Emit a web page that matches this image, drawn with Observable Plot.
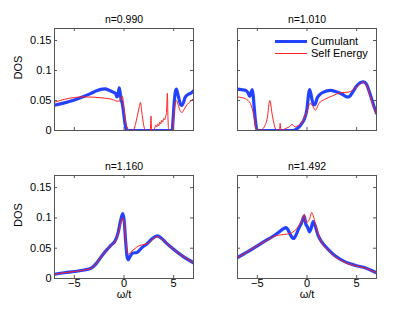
<!DOCTYPE html>
<html><head><meta charset="utf-8">
<script src="https://cdn.jsdelivr.net/npm/d3@7"></script>
<script src="https://cdn.jsdelivr.net/npm/@observablehq/plot@0.6"></script>
<style>
body{margin:0;background:#fff;}
#chart{position:relative;width:415px;height:313px;font-family:"Liberation Sans",Arial,sans-serif;}
#chart svg{position:absolute;}
.leg{position:absolute;font-size:11px;line-height:12px;color:#000;white-space:nowrap;}
.sw{position:absolute;}
</style></head><body><div id="chart"></div>
<script>
// ---------- data ----------
const titles = ["n=0.990", "n=1.010", "n=1.160", "n=1.492"];
const xTicks = [-5, 0, 5];
const yTicks = [0, 0.05, 0.1, 0.15];
const seriesNames = ["Cumulant", "Self Energy"];

// [omega/t, DOS]
const cumulant1 = [[-7,0.042],[-6,0.046],[-5,0.051],[-4,0.057],[-3.3,0.062],[-2.7,0.0665],[-2.2,0.069],[-1.9,0.0695],[-1.5,0.067],[-1.1,0.064],[-0.85,0.062],[-0.72,0.056],[-0.6,0.06],[-0.48,0.071],[-0.38,0.062],[-0.28,0.05],[-0.18,0.046],[-0.08,0.035],[0.05,0.018],[0.18,0.005],[0.35,0],[4.85,0],[4.95,0.02],[5.05,0.045],[5.18,0.065],[5.28,0.069],[5.4,0.062],[5.55,0.052],[5.7,0.043],[5.85,0.042],[6.0,0.047],[6.15,0.055],[6.45,0.06],[6.7,0.062],[7,0.066]];
const selfEnergy1 = [[-7,0.047],[-6,0.052],[-5,0.055],[-4,0.056],[-3,0.0555],[-2,0.054],[-1.2,0.052],[-0.7,0.049],[-0.45,0.049],[-0.3,0.055],[-0.2,0.058],[-0.1,0.052],[0,0.035],[0.15,0.015],[0.35,0.004],[0.55,0],[0.95,0.001],[1.15,0.01],[1.35,0.025],[1.55,0.04],[1.66,0.047],[1.8,0.03],[1.95,0.012],[2.1,0.002],[2.3,0],[2.65,0],[2.72,0.024],[2.78,0],[2.95,0],[3.1,0.004],[3.2,0.009],[3.3,0.006],[3.4,0.011],[3.5,0.008],[3.6,0.014],[3.7,0.011],[3.8,0.017],[3.9,0.014],[4.0,0.02],[4.1,0.018],[4.2,0.024],[4.28,0.03],[4.37,0.062],[4.43,0.02],[4.5,0.002],[4.6,0],[4.9,0],[5.0,0.02],[5.12,0.042],[5.28,0.05],[5.45,0.043],[5.65,0.033],[5.85,0.03],[6.05,0.035],[6.35,0.043],[6.65,0.048],[7,0.053]];

const cumulant2 = [[-7,0.069],[-6.6,0.068],[-6.2,0.067],[-5.95,0.063],[-5.76,0.057],[-5.62,0.064],[-5.52,0.068],[-5.42,0.058],[-5.3,0.035],[-5.15,0.01],[-5.0,0],[-1.4,0],[-1.0,0.003],[-0.6,0.01],[-0.3,0.018],[0,0.036],[0.12,0.055],[0.25,0.068],[0.38,0.062],[0.5,0.052],[0.65,0.043],[0.8,0.043],[1.0,0.053],[1.3,0.06],[1.67,0.064],[2.34,0.067],[3.0,0.064],[3.6,0.06],[4.0,0.056],[4.2,0.056],[4.6,0.064],[5.0,0.074],[5.4,0.08],[5.7,0.081],[6.0,0.077],[6.25,0.066],[6.5,0.053],[6.75,0.04],[7,0.029]];
const selfEnergy2 = [[-7,0.056],[-6.6,0.055],[-6.2,0.053],[-5.7,0.045],[-5.37,0.026],[-5.1,0.002],[-4.86,0],[-4.5,0.002],[-4.3,0.006],[-4.0,0.021],[-3.75,0.05],[-3.5,0.026],[-3.2,0.004],[-2.95,0],[-2.78,0],[-2.7,0.012],[-2.63,0],[-2.4,0.001],[-2.2,0.003],[-1.8,0.006],[-1.5,0.01],[-1.2,0.006],[-0.9,0.008],[-0.6,0.011],[-0.35,0.018],[0,0.031],[0.3,0.045],[0.5,0.043],[0.85,0.034],[1.2,0.045],[1.8,0.052],[2.6,0.058],[3.4,0.063],[4.2,0.064],[4.8,0.07],[5.4,0.078],[5.7,0.081],[6.0,0.076],[6.25,0.064],[6.5,0.05],[6.75,0.037],[7,0.027]];

const cumulant3 = [[-7,0.007],[-6,0.0095],[-5,0.0115],[-4,0.014],[-3.3,0.017],[-2.8,0.0245],[-2.2,0.038],[-1.7,0.048],[-1.3,0.055],[-0.9,0.062],[-0.6,0.075],[-0.35,0.095],[-0.12,0.107],[0.02,0.095],[0.15,0.065],[0.3,0.037],[0.42,0.031],[0.6,0.036],[0.9,0.042],[1.3,0.043],[1.8,0.051],[2.3,0.057],[2.8,0.065],[3.35,0.0705],[3.8,0.066],[4.3,0.058],[4.9,0.0495],[5.9,0.037],[7,0.026]];
const selfEnergy3 = [[-7,0.007],[-6,0.0095],[-5,0.0115],[-4,0.014],[-3.3,0.017],[-2.8,0.0245],[-2.2,0.038],[-1.7,0.048],[-1.3,0.055],[-0.9,0.061],[-0.6,0.073],[-0.35,0.09],[-0.12,0.1],[0.02,0.092],[0.15,0.068],[0.3,0.045],[0.45,0.04],[0.7,0.044],[1.0,0.048],[1.5,0.054],[2.0,0.056],[2.4,0.058],[2.8,0.064],[3.35,0.069],[3.8,0.065],[4.3,0.058],[4.9,0.0495],[5.9,0.037],[7,0.026]];

const cumulant4 = [[-7,0.0345],[-6,0.044],[-5,0.054],[-4,0.064],[-3.3,0.071],[-2.8,0.077],[-2.4,0.082],[-2.1,0.084],[-1.9,0.08],[-1.65,0.0715],[-1.35,0.066],[-1.1,0.072],[-0.85,0.082],[-0.55,0.092],[-0.28,0.103],[-0.12,0.09],[0.05,0.085],[0.25,0.077],[0.42,0.083],[0.62,0.094],[0.8,0.088],[1.1,0.072],[1.5,0.06],[2.2,0.047],[2.85,0.037],[3.9,0.027],[4.9,0.0215],[5.9,0.0175],[7,0.0095]];
const selfEnergy4 = [[-7,0.0345],[-6,0.044],[-5,0.054],[-4,0.0635],[-3.5,0.068],[-3,0.071],[-2.4,0.0725],[-1.8,0.074],[-1.3,0.078],[-0.9,0.085],[-0.55,0.095],[-0.27,0.106],[-0.1,0.092],[0.1,0.094],[0.3,0.1],[0.47,0.109],[0.62,0.104],[0.85,0.09],[1.1,0.075],[1.5,0.059],[2.2,0.046],[2.85,0.036],[3.9,0.026],[4.9,0.021],[5.9,0.017],[7,0.0095]];

const cumulantSeries = [cumulant1, cumulant2, cumulant3, cumulant4];
const selfEnergySeries = [selfEnergy1, selfEnergy2, selfEnergy3, selfEnergy4];

// ---------- layout / style ----------
const BLUE = "#2242ff", RED = "#ff2020", AXIS = "#555";
const layout = [
  {left: 0,   top: 0,   w: 207, h: 145, ml: 54, mr: 14, mt: 28, mb: 15, yLab: true,  xLab: false},
  {left: 207, top: 0,   w: 208, h: 145, ml: 30, mr: 39, mt: 28, mb: 15, yLab: false, xLab: false},
  {left: 0,   top: 145, w: 207, h: 168, ml: 54, mr: 14, mt: 30, mb: 35, yLab: true,  xLab: true},
  {left: 207, top: 145, w: 208, h: 168, ml: 30, mr: 39, mt: 30, mb: 35, yLab: false, xLab: true}
];

const chart = document.getElementById("chart");
layout.forEach((L, i) => {
  const iw = L.w - L.ml - L.mr, ih = L.h - L.mt - L.mb;
  const marks = [
    Plot.line(cumulantSeries[i], {x: d => d[0], y: d => d[1], stroke: BLUE, strokeWidth: 3.2, curve: "monotone-x", clip: true}),
    Plot.line(selfEnergySeries[i], {x: d => d[0], y: d => d[1], stroke: RED, strokeWidth: 1, curve: "monotone-x", clip: true}),
    Plot.frame({stroke: AXIS}),
    Plot.tickX(xTicks, {x: d => d, insetTop: ih - 3, stroke: AXIS}),
    Plot.tickX(xTicks, {x: d => d, insetBottom: ih - 3, stroke: AXIS}),
    Plot.tickY(yTicks.slice(1), {y: d => d, insetRight: iw - 3, stroke: AXIS}),
    Plot.tickY(yTicks.slice(1), {y: d => d, insetLeft: iw - 3, stroke: AXIS}),
    Plot.text([titles[i]], {frameAnchor: "top", dy: -13, fontSize: 10.5, fill: "#000"})
  ];
  if (L.yLab) {
    marks.push(Plot.axisY(yTicks, {tickSize: 0, tickPadding: 3, tickFormat: d => String(d), fontSize: 11, label: null, fill: "#000"}));
    marks.push(Plot.text(["DOS"], {frameAnchor: "left", dx: -36, rotate: -90, fontSize: 11, fill: "#000"}));
  }
  if (L.xLab) {
    marks.push(Plot.axisX(xTicks, {tickSize: 0, tickPadding: 1, fontSize: 11, label: null, fill: "#000"}));
    marks.push(Plot.text(["ω/t"], {frameAnchor: "bottom", dy: 19.5, fontSize: 11, fill: "#000"}));
  }
  const svg = Plot.plot({
    width: L.w, height: L.h,
    marginLeft: L.ml, marginRight: L.mr, marginTop: L.mt, marginBottom: L.mb,
    x: {domain: [-7, 7], axis: null},
    y: {domain: [0, 0.17], axis: null},
    style: {fontFamily: "'Liberation Sans', Arial, sans-serif", fontSize: "11px", background: "transparent", overflow: "visible"},
    marks
  });
  svg.style.left = L.left + "px";
  svg.style.top = L.top + "px";
  chart.appendChild(svg);
});

// legend (inside panel 2)
const legendColors = [BLUE, RED];
const legendWidths = [3.2, 1];
seriesNames.forEach((name, k) => {
  const y = 41.7 + k * 11.6;
  const sw = document.createElement("div");
  sw.className = "sw";
  sw.style.cssText = `left:275px;width:32px;top:${y - legendWidths[k] / 2}px;height:${legendWidths[k]}px;background:${legendColors[k]};`;
  chart.appendChild(sw);
  const t = document.createElement("div");
  t.className = "leg";
  t.textContent = name;
  t.style.left = "311px";
  t.style.top = (y - 6.5) + "px";
  chart.appendChild(t);
});
</script>
</body></html>
